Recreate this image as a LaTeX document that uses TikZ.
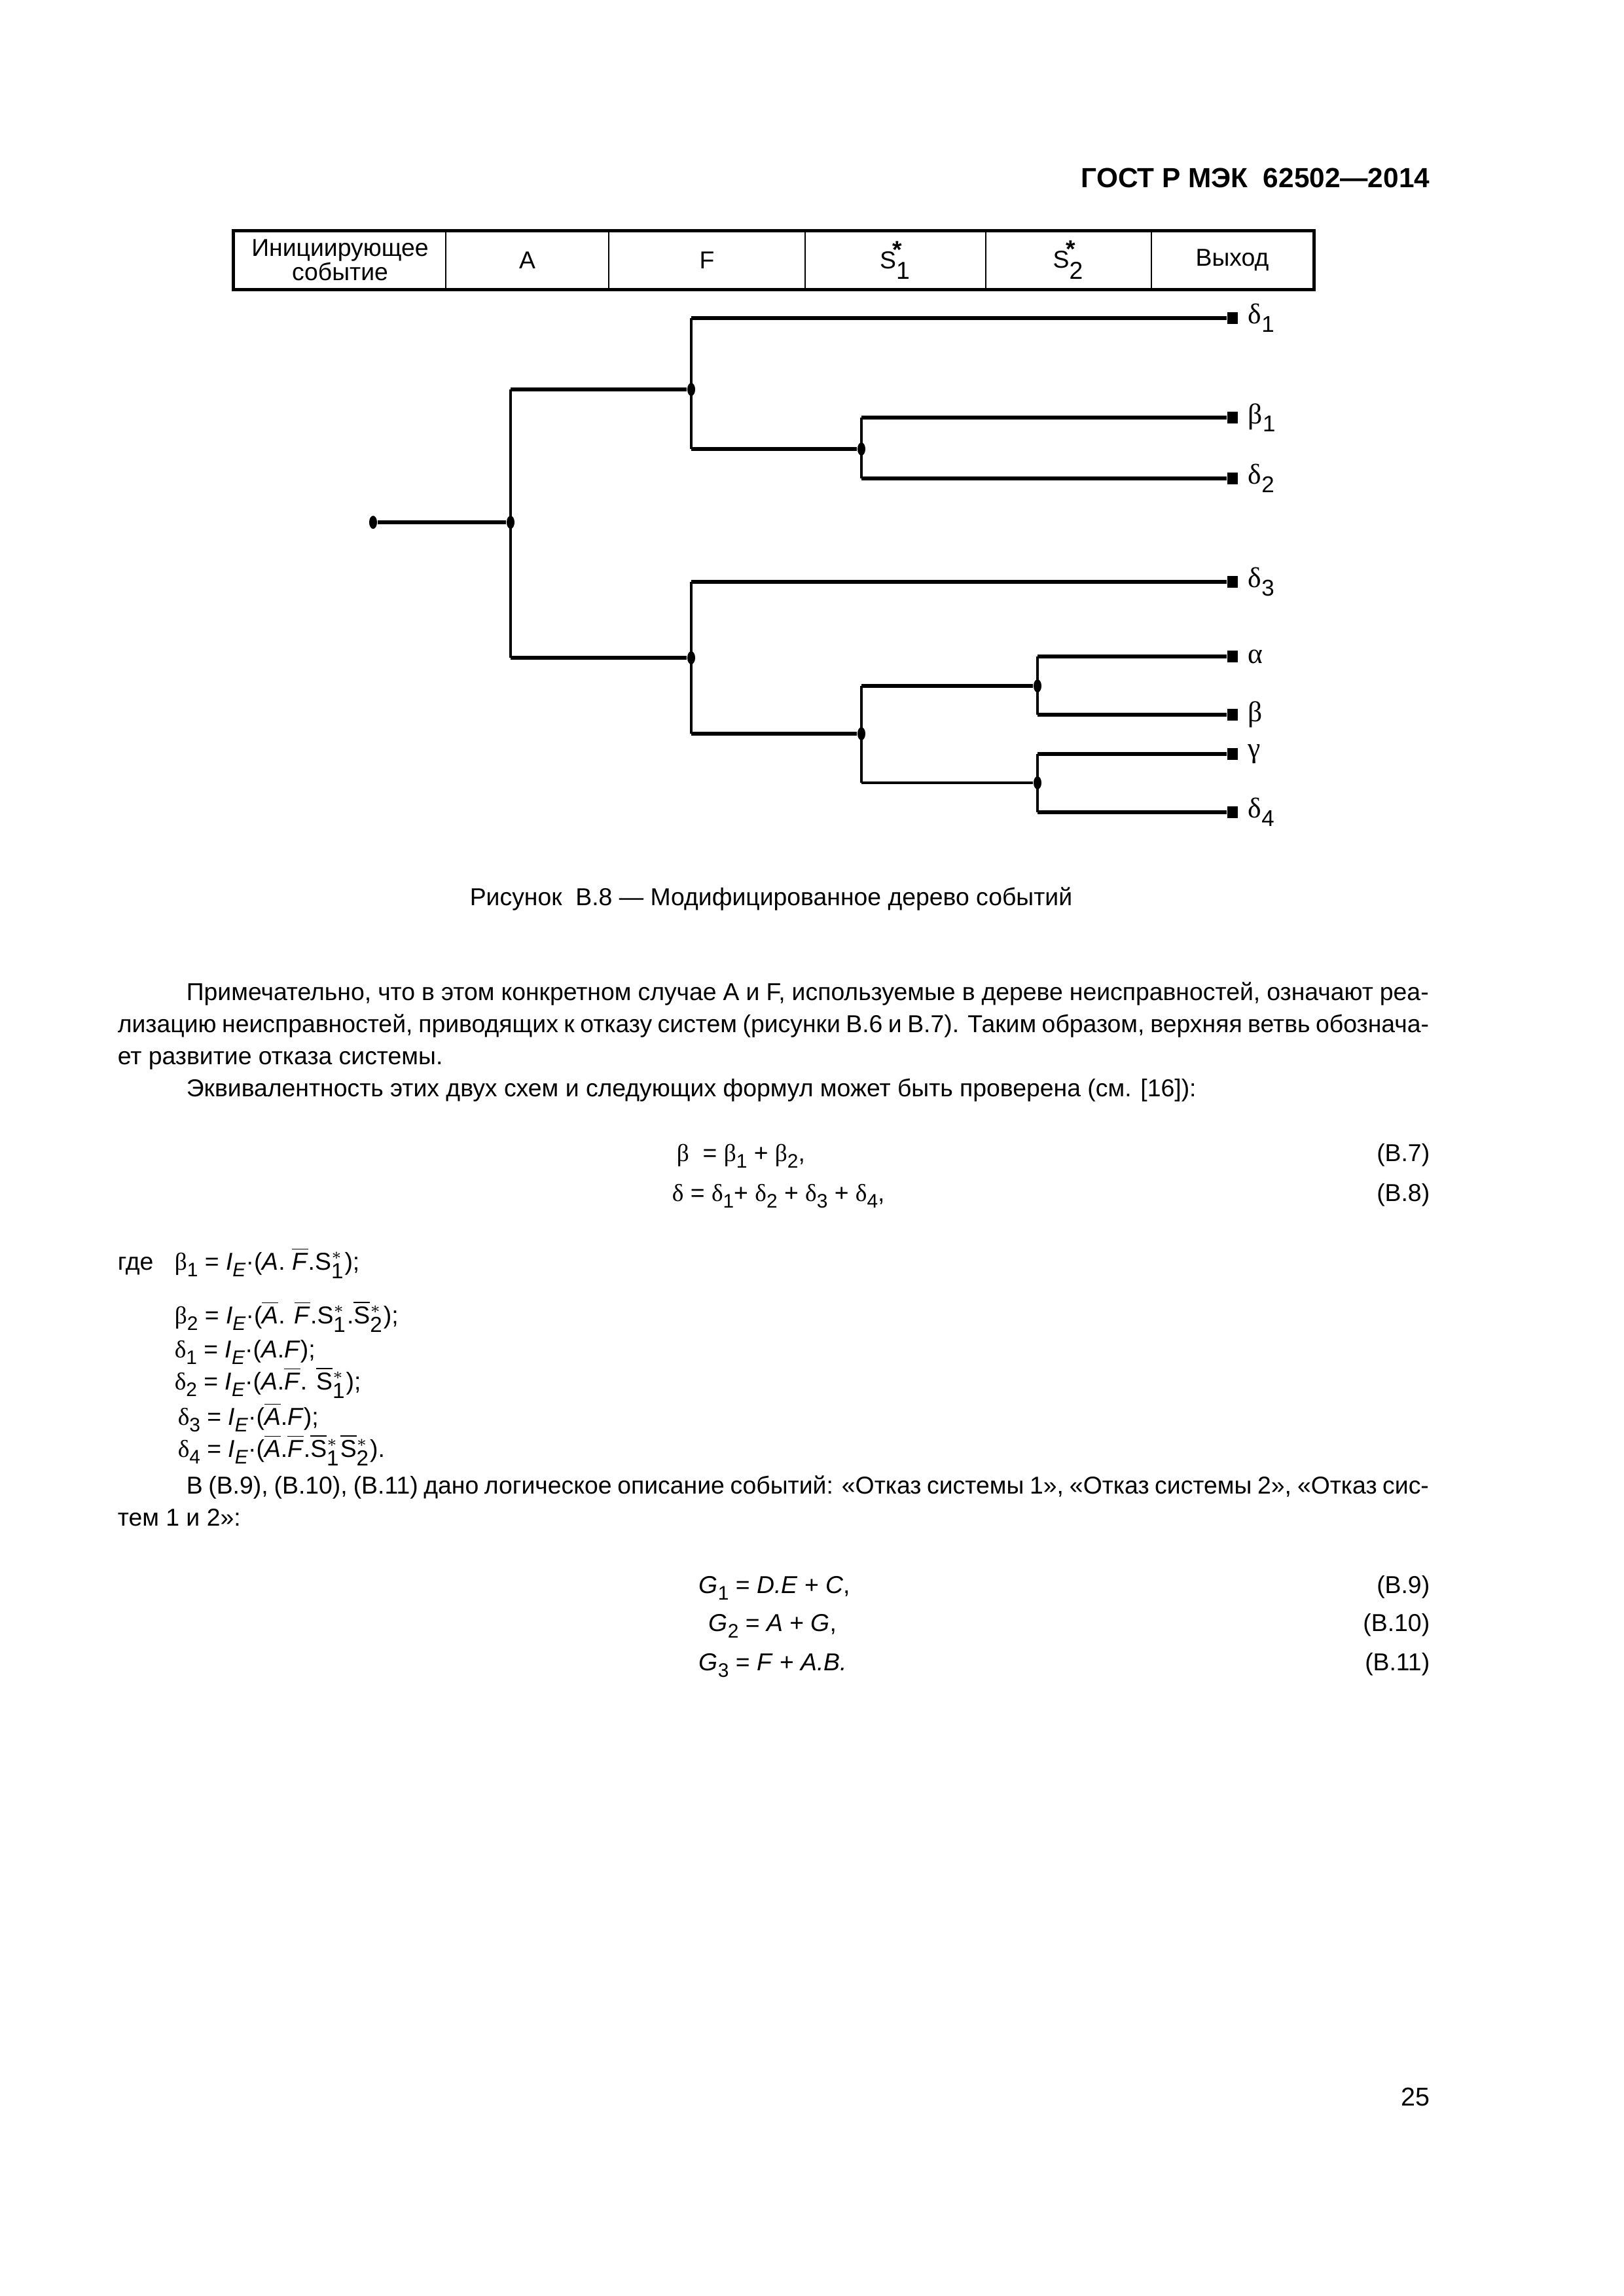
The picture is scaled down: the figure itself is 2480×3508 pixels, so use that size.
\documentclass[tikz,border=0pt]{standalone}
\usepackage{fontspec}
\setmainfont{Liberation Sans}
\newfontfamily\grk{Liberation Serif}
\usetikzlibrary{shapes.geometric, positioning, calc}

\newlength\pxu
\setlength\pxu{0.0084677cm}
\newcommand{\gr}[1]{{\grk #1}}
\newcommand{\lo}[1]{\raisebox{-0.55ex}{\scalebox{0.8}{#1}}}
\newcommand{\bari}[1]{$\overline{\mbox{\textit{#1}}}$}
\newcommand{\bars}[1]{$\overline{\mbox{#1}}$}
\newcommand{\sx}[1]{${}^{\ast}_{\mbox{\footnotesize#1}}$}
\newcommand{\IE}{\textit{I}\lo{\textit{E}}·}

\begin{document}
\begin{tikzpicture}[
    x=1\pxu, y=-1\pxu,
    txt/.style={anchor=base west, inner sep=0pt, font=\fontsize{9pt}{11pt}\selectfont},
    tag/.style={anchor=base east, inner sep=0pt, font=\fontsize{9pt}{11pt}\selectfont},
    cell/.style={draw, line width=0.7pt, minimum height=87*\pxu, inner sep=0pt, align=center, font=\fontsize{9pt}{8.8pt}\selectfont},
    junc/.style={ellipse, fill, inner sep=0pt, minimum width=12*\pxu, minimum height=20*\pxu},
    leaf/.style={rectangle, fill, inner sep=0pt, minimum width=16*\pxu, minimum height=18*\pxu},
    outlbl/.style={anchor=west, inner sep=0pt, font=\fontsize{10.5pt}{12pt}\selectfont},
    hline/.style={line width=1.5pt},
    vline/.style={line width=0.8pt},
    thinh/.style={line width=0.9pt}
]
    \useasboundingbox (0,0) rectangle (2480,3508);

    % --- header ---
    \node[anchor=base east, inner sep=0pt, font=\fontsize{10.2pt}{12pt}\selectfont\bfseries] (gost) at (2185,286) {ГОСТ Р МЭК\ \ 62502—2014};

    % --- table head ---
    \node[cell, minimum width=323*\pxu] (c1) at (519.5,397.5) {Инициирующее\\событие};
    \node[cell, minimum width=249*\pxu] (c2) at (805.5,397.5) {A};
    \node[cell, minimum width=300*\pxu] (c3) at (1080,397.5) {F};
    \node[cell, minimum width=276*\pxu] (c4) at (1368,397.5) {S$^{\!\mbox{\bfseries *}}_{\mbox{\small 1}}$};
    \node[cell, minimum width=253*\pxu] (c5) at (1632.5,397.5) {S$^{\!\mbox{\bfseries *}}_{\mbox{\small 2}}$};
    \node[cell, minimum width=247*\pxu] (c6) at (1882.5,397.5) {Выход};
    \draw[line width=1.3pt] (c1.north west) rectangle (c6.south east);

    % --- tree nodes ---
    \node[junc] (s0) at (570,798) {};
    \node[junc] (j0) at (780,798) {};
    \node[junc] (j1) at (1056,595) {};
    \node[junc] (j2) at (1316,686) {};
    \node[junc] (j3) at (1056,1005) {};
    \node[junc] (j4) at (1316,1121) {};
    \node[junc] (j5) at (1585,1048) {};
    \node[junc] (j6) at (1585,1196) {};

    \node[leaf] (e1) at (1883,486) {};
    \node[leaf] (e2) at (1883,638) {};
    \node[leaf] (e3) at (1883,731) {};
    \node[leaf] (e4) at (1883,889) {};
    \node[leaf] (e5) at (1883,1003) {};
    \node[leaf] (e6) at (1883,1092) {};
    \node[leaf] (e7) at (1883,1152) {};
    \node[leaf] (e8) at (1883,1241) {};

    \node[outlbl, right=0.12cm of e1] (o1) {\gr{δ}\lo{1}};
    \node[outlbl, right=0.12cm of e2] (o2) {\gr{β}\lo{1}};
    \node[outlbl, right=0.12cm of e3] (o3) {\gr{δ}\lo{2}};
    \node[outlbl, right=0.12cm of e4] (o4) {\gr{δ}\lo{3}};
    \node[outlbl, right=0.12cm of e5] (o5) {\gr{α}};
    \node[outlbl, right=0.12cm of e6] (o6) {\gr{β}};
    \node[outlbl, right=0.12cm of e7] (o7) {\gr{γ}};
    \node[outlbl, right=0.12cm of e8] (o8) {\gr{δ}\lo{4}};

    % --- tree edges ---
    \draw[hline] (s0) -- (j0);
    \draw[vline] (j0 |- j1) -- (j0 |- j3);
    \draw[hline] (j0 |- j1) -- (j1);
    \draw[hline] (j0 |- j3) -- (j3);

    \draw[vline] (j1 |- e1) -- (j1 |- j2);
    \draw[hline] (j1 |- e1) -- (e1);
    \draw[hline] (j1 |- j2) -- (j2);
    \draw[vline] (j2 |- e2) -- (j2 |- e3);
    \draw[hline] (j2 |- e2) -- (e2);
    \draw[hline] (j2 |- e3) -- (e3);

    \draw[vline] (j3 |- e4) -- (j3 |- j4);
    \draw[hline] (j3 |- e4) -- (e4);
    \draw[hline] (j3 |- j4) -- (j4);
    \draw[vline] (j4 |- j5) -- (j4 |- j6);
    \draw[hline] (j4 |- j5) -- (j5);
    \draw[thinh] (j4 |- j6) -- (j6);
    \draw[vline] (j5 |- e5) -- (j5 |- e6);
    \draw[hline] (j5 |- e5) -- (e5);
    \draw[hline] (j5 |- e6) -- (e6);
    \draw[vline] (j6 |- e7) -- (j6 |- e8);
    \draw[hline] (j6 |- e7) -- (e7);
    \draw[hline] (j6 |- e8) -- (e8);

    % --- caption ---
    \node[anchor=base, inner sep=0pt, font=\fontsize{9pt}{11pt}\selectfont] (cap) at (1178,1383) {Рисунок\ \ В.8 — Модифицированное дерево событий};

    % --- text ---
    \node[txt] (p1) at (284,1528) {\makebox[1898\pxu][s]{Примечательно, что в этом конкретном случае A и F, используемые в дереве неисправностей, означают реа-}};
    \node[txt] (p2) at (179,1577) {\makebox[2003\pxu][s]{лизацию неисправностей, приводящих к отказу систем (рисунки В.6 и В.7). Таким образом, верхняя ветвь обознача-}};
    \node[txt] (p3) at (179,1626) {ет развитие отказа системы.};
    \node[txt] (p4) at (284,1675) {Эквивалентность этих двух схем и следующих формул может быть проверена (см. [16]):};

    \node[txt] (f7) at (1033,1774) {\gr{β}\ \ = \gr{β}\lo{1} + \gr{β}\lo{2},};
    \node[tag] (t7) at (2185,1774) {(В.7)};
    \node[txt] (f8) at (1026,1835) {\gr{δ} = \gr{δ}\lo{1}+ \gr{δ}\lo{2} + \gr{δ}\lo{3} + \gr{δ}\lo{4},};
    \node[tag] (t8) at (2185,1835) {(В.8)};

    \node[txt] (gde) at (179,1940) {где};
    \node[txt] (b1) at (266,1940) {\gr{β}\lo{1} = \IE(\textit{A}. \bari{F}.S\sx{1});};
    \node[txt] (b2) at (266,2022) {\gr{β}\lo{2} = \IE(\bari{A}. \bari{F}.S\sx{1}.\bars{S}\sx{2});};
    \node[txt] (d1) at (266,2074) {\gr{δ}\lo{1} = \IE(\textit{A}.\textit{F});};
    \node[txt] (d2) at (266,2123) {\gr{δ}\lo{2} = \IE(\textit{A}.\bari{F}. \bars{S}\sx{1});};
    \node[txt] (d3) at (271,2177) {\gr{δ}\lo{3} = \IE(\bari{A}.\textit{F});};
    \node[txt] (d4) at (271,2226) {\gr{δ}\lo{4} = \IE(\bari{A}.\bari{F}.\bars{S}\sx{1}\bars{S}\sx{2}).};

    \node[txt] (p5) at (284,2282) {\makebox[1898\pxu][s]{В (В.9), (В.10), (В.11) дано логическое описание событий: «Отказ системы 1», «Отказ системы 2», «Отказ сис-}};
    \node[txt] (p6) at (179,2331) {тем 1 и 2»:};

    \node[txt] (g1) at (1067,2434) {\textit{G}\lo{1} = \textit{D.E} + \textit{C},};
    \node[tag] (t9) at (2185,2434) {(В.9)};
    \node[txt] (g2) at (1082,2492) {\textit{G}\lo{2} = \textit{A} + \textit{G},};
    \node[tag] (t10) at (2185,2492) {(В.10)};
    \node[txt] (g3) at (1067,2552) {\textit{G}\lo{3} = \textit{F} + \textit{A.B.}};
    \node[tag] (t11) at (2185,2552) {(В.11)};

    % --- page number ---
    \node[anchor=base east, inner sep=0pt, font=\fontsize{9.5pt}{11pt}\selectfont] (pg) at (2185,3217) {25};
\end{tikzpicture}
\end{document}
